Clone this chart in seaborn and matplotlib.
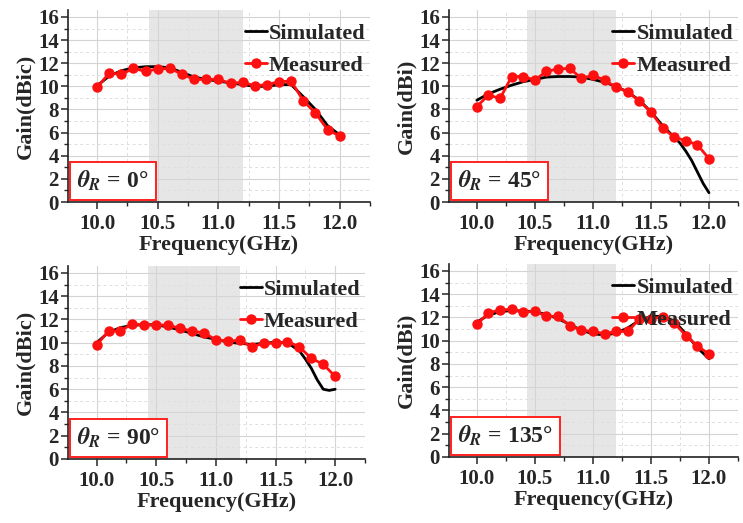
import numpy as np
import pandas as pd
import matplotlib
matplotlib.use("Agg")
import matplotlib.pyplot as plt
from matplotlib.ticker import MultipleLocator, FormatStrFormatter
import seaborn as sns

# ---------------- data ----------------
meas_freq = [10.0, 10.1, 10.2, 10.3, 10.4, 10.5, 10.6, 10.7, 10.8, 10.9, 11.0,
             11.1, 11.2, 11.3, 11.4, 11.5, 11.6, 11.7, 11.8, 11.9, 12.0]

meas_0 = [9.9, 11.15, 11.05, 11.55, 11.3, 11.5, 11.55, 11.05, 10.6, 10.6, 10.6,
          10.25, 10.35, 10.05, 10.15, 10.4, 10.45, 8.75, 7.7, 6.25, 5.7]
meas_45 = [8.25, 9.25, 8.95, 10.85, 10.85, 10.55, 11.3, 11.5, 11.55, 10.7, 10.95,
           10.55, 9.9, 9.55, 8.7, 7.8, 6.4, 5.6, 5.3, 4.95, 3.75]
meas_90 = [9.8, 11.0, 11.0, 11.65, 11.5, 11.55, 11.5, 11.25, 11.0, 10.85, 10.25,
           10.15, 10.2, 9.65, 9.95, 9.95, 10.1, 9.65, 8.65, 8.15, 7.1]
meas_135 = [11.4, 12.4, 12.65, 12.7, 12.45, 12.55, 12.1, 12.1, 11.3, 10.9, 10.8,
            10.6, 10.8, 10.8, 11.85, 11.9, 12.05, 11.55, 10.45, 9.55, 8.85]

sim_freq_0 = [10.0, 10.1, 10.2, 10.3, 10.4, 10.5, 10.6, 10.7, 10.8, 10.9, 11.0,
              11.1, 11.2, 11.3, 11.4, 11.5, 11.6, 11.7, 11.8, 11.9, 12.0]
sim_0 = [10.05, 10.9, 11.35, 11.6, 11.7, 11.7, 11.6, 11.2, 10.8, 10.6, 10.45,
         10.3, 10.15, 10.0, 10.0, 10.15, 10.15, 9.1, 8.0, 6.6, 5.8]

sim_freq_45 = [10.0, 10.1, 10.2, 10.3, 10.4, 10.5, 10.6, 10.7, 10.8, 10.9, 11.0,
               11.1, 11.2, 11.3, 11.4, 11.5, 11.6, 11.7, 11.75, 11.8, 11.85,
               11.9, 11.95, 12.0]
sim_45 = [8.8, 9.35, 9.75, 10.1, 10.4, 10.6, 10.8, 10.85, 10.85, 10.8, 10.6,
          10.35, 10.0, 9.5, 8.8, 7.8, 6.6, 5.6, 5.1, 4.4, 3.6, 2.6, 1.6, 0.8]

sim_freq_90 = [10.0, 10.1, 10.2, 10.3, 10.4, 10.5, 10.6, 10.7, 10.8, 10.9, 11.0,
               11.1, 11.2, 11.3, 11.4, 11.5, 11.6, 11.7, 11.75, 11.8, 11.85,
               11.9, 11.95, 12.0]
sim_90 = [10.0, 10.9, 11.3, 11.5, 11.55, 11.55, 11.35, 11.1, 10.8, 10.5, 10.3,
          10.05, 9.95, 9.85, 9.95, 10.05, 10.0, 9.3, 8.6, 7.8, 6.8, 6.0, 5.9, 6.0]

sim_freq_135 = [10.0, 10.1, 10.2, 10.3, 10.4, 10.5, 10.6, 10.7, 10.8, 10.9, 11.0,
                11.1, 11.2, 11.3, 11.4, 11.5, 11.6, 11.7, 11.8, 11.9, 12.0]
sim_135 = [11.6, 12.2, 12.5, 12.6, 12.55, 12.5, 12.25, 11.9, 11.4, 10.9, 10.6,
           10.5, 10.65, 11.1, 11.75, 12.1, 12.1, 11.7, 10.6, 9.4, 8.45]

angles = ["0", "45", "90", "135"]
ylabels = ["Gain(dBic)", "Gain(dBi)", "Gain(dBic)", "Gain(dBi)"]
xticks = [10.0, 10.5, 11.0, 11.5, 12.0]
yticks = [0, 2, 4, 6, 8, 10, 12, 14, 16]
band = [10.43, 11.2]

panels = [
    (sim_freq_0, sim_0, meas_0),
    (sim_freq_45, sim_45, meas_45),
    (sim_freq_90, sim_90, meas_90),
    (sim_freq_135, sim_135, meas_135),
]

# ---------------- style ----------------
sns.set_style("ticks")
plt.rcParams["font.family"] = ["Liberation Serif", "DejaVu Serif"]
plt.rcParams["font.weight"] = "bold"
plt.rcParams["axes.labelweight"] = "bold"
plt.rcParams["mathtext.fontset"] = "stix"

W, H = 743, 523
fig = plt.figure(figsize=(W / 100, H / 100), dpi=100)

# axes boxes in pixel coords: left, top, right, bottom
boxes = [(68, 10, 370, 202), (449, 10, 738, 202),
         (68, 266, 365, 459), (449, 264, 738, 457)]

for i, ((sf, sv, mv), (l, t, r, b)) in enumerate(zip(panels, boxes)):
    ax = fig.add_axes([l / W, (H - b) / H, (r - l) / W, (b - t) / H])
    ax.axvspan(band[0], band[1], color="#e6e6e6", zorder=0, lw=0)

    sim_df = pd.DataFrame({"Frequency": sf, "Gain": sv})
    meas_df = pd.DataFrame({"Frequency": meas_freq, "Gain": mv})
    sns.lineplot(data=sim_df, x="Frequency", y="Gain", ax=ax, color="black",
                 lw=2.0, label="Simulated", zorder=3)
    sns.lineplot(data=meas_df, x="Frequency", y="Gain", ax=ax, color="#ff1010",
                 lw=2.0, marker="o", markersize=7.5, markeredgewidth=0,
                 label="Measured", zorder=4)

    ax.set_xlim(9.76, 12.25)
    ax.set_ylim(0, 16.6)
    ax.set_xticks(xticks)
    ax.set_yticks(yticks)
    ax.xaxis.set_major_formatter(FormatStrFormatter("%.1f"))
    ax.xaxis.set_minor_locator(MultipleLocator(0.25))
    ax.yaxis.set_minor_locator(MultipleLocator(1))
    ax.grid(True, which="major", color="#d4d4d4", lw=0.8, ls="-", zorder=1)
    ax.grid(True, which="minor", color="#dedede", lw=0.7, ls=(0, (3, 3)), zorder=1)
    ax.set_axisbelow(True)
    for s in ["top", "right"]:
        ax.spines[s].set_visible(False)
    for s in ["left", "bottom"]:
        ax.spines[s].set_linewidth(1.2)
        ax.spines[s].set_color("#222222")
    ax.tick_params(axis="x", which="major", length=5, width=1.1, direction="out",
                   labelsize=15, pad=3.5)
    ax.tick_params(axis="y", which="major", length=5, width=1.1, direction="out",
                   labelsize=15, pad=1.5)
    ax.tick_params(which="minor", length=3, width=1.0, direction="out")
    for lab in ax.get_xticklabels() + ax.get_yticklabels():
        lab.set_fontweight("bold")

    ax.set_xlabel("Frequency(GHz)", fontsize=16, fontweight="bold", labelpad=1)
    ax.set_ylabel(ylabels[i], fontsize=16, fontweight="bold", labelpad=2)

    leg = ax.legend(loc="upper right", bbox_to_anchor=(1.03, 1.0), frameon=False,
                    fontsize=16, handlelength=1.0, handletextpad=0.1,
                    labelspacing=0.5, borderaxespad=0.2)
    for txt in leg.get_texts():
        txt.set_fontweight("bold")

    ax.text(0.03, 0.045, r"$\theta_R$" + " = " + angles[i] + "°",
            transform=ax.transAxes, ha="left", va="bottom", fontsize=17,
            fontweight="bold", zorder=6,
            bbox=dict(boxstyle="square,pad=0.3", ec="#ff2020", fc="white", lw=1.4))

fig.savefig("out.png", dpi=100)
